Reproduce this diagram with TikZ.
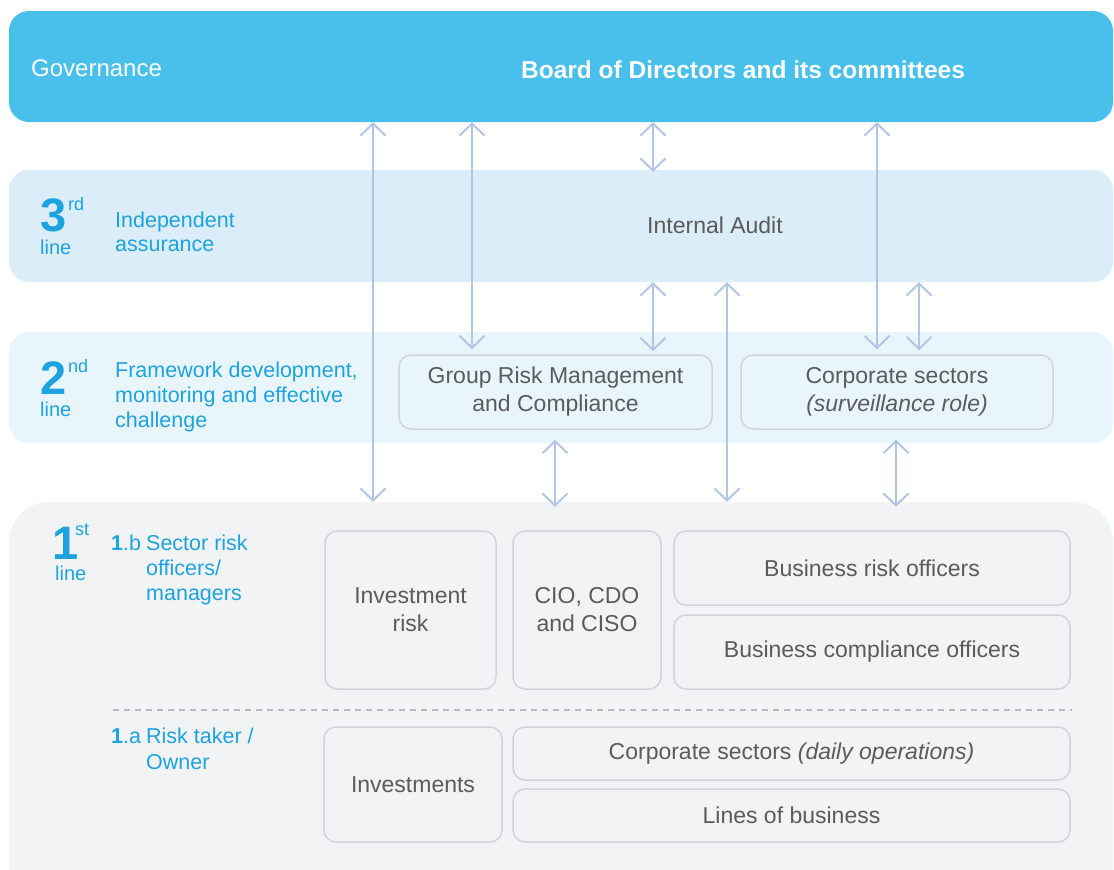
\documentclass[tikz,border=0pt]{standalone}
\usepackage{fontspec}
\setmainfont{Liberation Sans}
\usetikzlibrary{arrows.meta}

\definecolor{govblue}{HTML}{48C0EB}
\definecolor{bandthree}{HTML}{DAEDF9}
\definecolor{bandtwo}{HTML}{E9F5FD}
\definecolor{bandone}{HTML}{F2F3F5}
\definecolor{labelblue}{HTML}{1CA3E0}
\definecolor{boxtext}{HTML}{5B5B5B}
\definecolor{boxline}{HTML}{D2D4D7}
\definecolor{arrowcol}{HTML}{B3C5E4}
\definecolor{dashcol}{HTML}{B8BABD}

\tikzset{
  band/.style={rectangle, rounded corners=20pt, inner sep=0pt, draw=none},
  unitbox/.style={rectangle, rounded corners=12pt, draw=boxline, line width=1.5pt,
    inner sep=0pt, align=center, text=boxtext, font=\fontsize{23}{28}\selectfont},
  boxlabel/.style={inner sep=0pt, align=center, text=boxtext, font=\fontsize{23}{28}\selectfont},
  sidetext/.style={anchor=base west, inner sep=0pt, text=labelblue, font=\fontsize{21.5}{26}\selectfont},
  bignum/.style={anchor=base west, inner sep=0pt, text=labelblue, font=\fontsize{47}{47}\selectfont\bfseries},
  supnum/.style={anchor=base west, inner sep=0pt, text=labelblue, font=\fontsize{18}{18}\selectfont},
  linetext/.style={anchor=base west, inner sep=0pt, text=labelblue, font=\fontsize{20}{20}\selectfont},
  tipend/.tip={Straight Barb[length=12pt,width=25pt,line width=2pt]},
  biarrow/.style={draw=arrowcol, line width=2pt, tipend-tipend},
}

\begin{document}
\begin{tikzpicture}[x=1pt,y=-1pt]
\useasboundingbox (0,0) rectangle (1114,870);
\clip (0,0) rectangle (1114,870);

% horizontal bands
\node[band, fill=govblue, minimum width=1104pt, minimum height=111pt] (gov) at (561,66.5) {};
\node[band, fill=bandthree, minimum width=1104pt, minimum height=112pt] (band3) at (561,226) {};
\node[band, fill=bandtwo, minimum width=1104pt, minimum height=111pt] (band2) at (561,387.5) {};
\node[band, rounded corners=40pt, fill=bandone, minimum width=1104pt, minimum height=408pt] (band1) at (561,706) {};

% governance row
\node[anchor=west, inner sep=0pt, text=white, font=\fontsize{24}{24}\selectfont] (govlabel) at (31,68) {Governance};
\node[inner sep=0pt, text=white, font=\fontsize{24.5}{24.5}\selectfont\bfseries] (board) at (743,70) {Board of Directors and its committees};

% third line
\node[bignum] (n3) at (40,231) {3};
\node[supnum] (s3) at (68,210) {rd};
\node[linetext] (l3) at (40,254) {line};
\node[sidetext] (t3a) at (115,227) {Independent};
\node[sidetext] (t3b) at (115,251) {assurance};
\node[boxlabel] (audit) at (715,225) {Internal Audit};

% second line
\node[bignum] (n2) at (40,394) {2};
\node[supnum] (s2) at (68,372) {nd};
\node[linetext] (l2) at (40,416) {line};
\node[sidetext] (t2a) at (115,377) {Framework development,};
\node[sidetext] (t2b) at (115,402) {monitoring and effective};
\node[sidetext] (t2c) at (115,427) {challenge};
\node[unitbox, minimum width=313pt, minimum height=74pt] (grm) at (555.5,392) {Group Risk Management\\and Compliance};
\node[unitbox, minimum width=312pt, minimum height=74pt] (csurv) at (897,392) {Corporate sectors\\\itshape (surveillance role)};

% first line
\node[bignum] (n1) at (52,559) {1};
\node[supnum] (s1) at (75,535) {st};
\node[linetext] (l1) at (55,580) {line};
\node[sidetext] (t1b) at (111,550) {\textbf{1}.b};
\node[sidetext] (t1ba) at (146,550) {Sector risk};
\node[sidetext] (t1bb) at (146,575) {officers/};
\node[sidetext] (t1bc) at (146,600) {managers};
\node[sidetext] (t1a) at (111,743) {\textbf{1}.a};
\node[sidetext] (t1aa) at (146,743) {Risk taker /};
\node[sidetext] (t1ab) at (146,769) {Owner};

\node[unitbox, minimum width=171pt, minimum height=158pt] (invrisk) at (410.5,610) {Investment\\risk};
\node[unitbox, minimum width=148pt, minimum height=158pt] (cio) at (587,610) {CIO, CDO\\and CISO};
\node[unitbox, minimum width=396pt, minimum height=74pt] (bro) at (872,568) {Business risk officers};
\node[unitbox, minimum width=396pt, minimum height=74pt] (bco) at (872,652) {Business compliance officers};

% divider between 1.b and 1.a
\coordinate (dashL) at (113,710);
\coordinate (dashR) at (1072,710);
\draw[dashcol, line width=1.5pt, dash pattern=on 6pt off 5pt] (dashL) -- (dashR);

\node[unitbox, minimum width=178pt, minimum height=115pt] (inv) at (413,784.5) {Investments};
\node[unitbox, minimum width=557pt, minimum height=53pt] (cdo) at (791.5,753.5) {Corporate sectors \textit{(daily operations)}};
\node[unitbox, minimum width=557pt, minimum height=53pt] (lob) at (791.5,815.5) {Lines of business};

% arrow columns
\coordinate (xa) at (373,0);
\coordinate (xb) at (472,0);
\coordinate (xc) at (653,0);
\coordinate (xd) at (727,0);
\coordinate (xe) at (877,0);
\coordinate (xf) at (919,0);
\coordinate (xg) at (555,0);
\coordinate (xh) at (896,0);

\draw[biarrow] (gov.south -| xa) -- (band1.north -| xa);
\draw[biarrow, shorten >=5pt] (gov.south -| xb) -- (grm.north -| xb);
\draw[biarrow, shorten >=-2pt] (gov.south -| xc) -- (band3.north -| xc);
\draw[biarrow, shorten >=3pt] (band3.south -| xc) -- (grm.north -| xc);
\draw[biarrow] (band3.south -| xd) -- (band1.north -| xd);
\draw[biarrow, shorten >=5pt] (gov.south -| xe) -- (csurv.north -| xe);
\draw[biarrow, shorten >=4pt] (band3.south -| xf) -- (csurv.north -| xf);
\draw[biarrow, shorten <=10pt, shorten >=-5pt] (grm.south -| xg) -- (band1.north -| xg);
\draw[biarrow, shorten <=10pt, shorten >=-5pt] (csurv.south -| xh) -- (band1.north -| xh);
\end{tikzpicture}
\end{document}
